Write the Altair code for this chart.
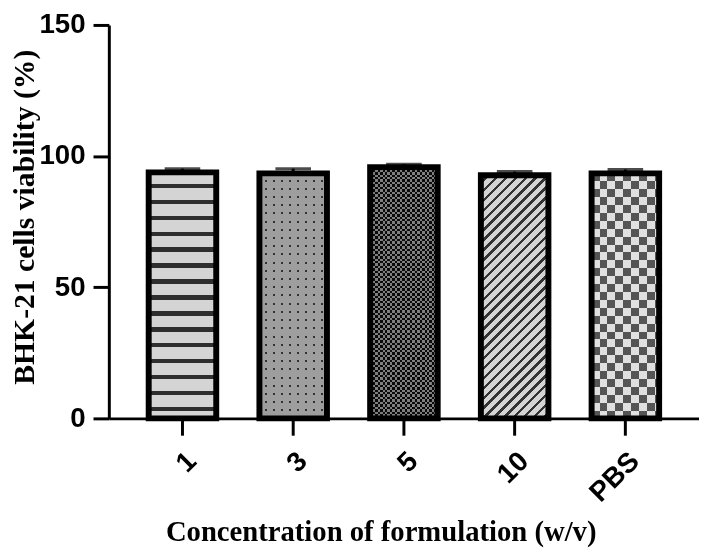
import altair as alt
import pandas as pd

# ---- data ----
categories = ["1", "3", "5", "10", "PBS"]
viability = [93.8, 93.4, 95.8, 92.7, 93.4]
sem = [1.4, 1.8, 1.1, 1.4, 1.5]

df = pd.DataFrame({"cat": categories, "value": viability, "err": sem})
df["top"] = df["value"] + df["err"]

# ---- layout / style ----
W, H = 597, 398
YMAX = 150
PAD_IN, PAD_OUT = 0.39, 0.36
step = W / (len(categories) - PAD_IN + 2 * PAD_OUT)
BW = step * (1 - PAD_IN)


def bar_h(cat):
    return viability[categories.index(cat)] * H / YMAX


def band_stops(total, period, first_len, c1, c2):
    stops = []
    pos = 0.0
    while pos < total:
        for length, col in ((first_len, c1), (period - first_len, c2)):
            a = max(pos, 0.0)
            b = min(pos + length, total)
            if b > a:
                stops.append(alt.GradientStop(offset=a / total, color=col))
                stops.append(alt.GradientStop(offset=b / total, color=col))
            pos += length
    return stops


def grad(stops, x1=0, y1=0, x2=0, y2=1):
    return alt.LinearGradient(gradient="linear", stops=stops, x1=x1, y1=y1, x2=x2, y2=y2)


def vstripes(cat, period, first_len, c1, c2):  # horizontal bands (gradient along y)
    return grad(band_stops(bar_h(cat), period, first_len, c1, c2), 0, 0, 0, 1)


def hstripes(period, first_len, c1, c2):  # vertical bands (gradient along x)
    return grad(band_stops(BW, period, first_len, c1, c2), 0, 0, 1, 0)


def diag(cat, period, first_len, c1, c2):
    w, h = BW, bar_h(cat)
    a = (w + h) / (w * w + h * h)
    return grad(band_stops(w + h, period, first_len, c1, c2), 0, 0, a * w, a * h)


LABEL_FONT = "Liberation Sans"
TITLE_FONT = "Liberation Serif"

x_enc = alt.X(
    "cat:N",
    sort=categories,
    scale=alt.Scale(domain=categories, paddingInner=PAD_IN, paddingOuter=PAD_OUT),
    axis=alt.Axis(
        title="Concentration of formulation (w/v)",
        labelAngle=-45,
        labelFont=LABEL_FONT,
        labelFontWeight="bold",
        labelFontSize=28,
        labelColor="black",
        labelPadding=12,
        tickSize=17,
        tickWidth=3,
        tickColor="black",
        domainWidth=3,
        domainColor="black",
        titleFont=TITLE_FONT,
        titleFontWeight="bold",
        titleFontSize=29,
        titleColor="black",
        titleX=275,
        titleY=124,
        titleBaseline="alphabetic",
        titleAlign="center",
    ),
)
y_axis = alt.Axis(
    title="BHK-21 cells viability (%)",
    values=[0, 50, 100, 150],
    grid=False,
    labelFont=LABEL_FONT,
    labelFontWeight="bold",
    labelFontSize=28,
    labelColor="black",
    labelPadding=8,
    tickSize=16,
    tickWidth=3,
    tickColor="black",
    domainWidth=3,
    domainColor="black",
    titleFont=TITLE_FONT,
    titleFontWeight="bold",
    titleFontSize=30,
    titleColor="black",
    titleX=-76,
    titleY=194,
    titleAngle=270,
    titleBaseline="alphabetic",
    titleAlign="center",
)
y_val = alt.Y("value:Q", scale=alt.Scale(domain=[0, YMAX]), axis=y_axis)

base = alt.Chart(df)

# error bars (upper only visible)
err_rule = base.mark_rule(color="black", strokeWidth=3).encode(
    x=x_enc, y=y_val, y2="top:Q"
)
err_cap = base.mark_tick(color="black", size=36, thickness=3).encode(
    x=x_enc, y=alt.Y("top:Q", scale=alt.Scale(domain=[0, YMAX]), axis=y_axis)
)


def bar_layer(cat, fill, **kw):
    return (
        base.transform_filter(alt.datum.cat == cat)
        .mark_bar(fill=fill, **kw)
        .encode(x=x_enc, y=y_val)
    )


layers = [err_rule, err_cap]

# bar "1": horizontal stripes
layers.append(bar_layer("1", vstripes("1", 16.1, 11.6, "#d4d4d4", "#2e2e2e")))

# bar "3": dotted grey
layers.append(bar_layer("3", vstripes("3", 8.3, 6.3, "#ffffff", "#333333")))
layers.append(bar_layer("3", hstripes(8.0, 6.0, "#ffffff", "#333333"), blend="lighten"))
layers.append(bar_layer("3", "#9e9e9e", blend="darken"))

# bar "5": fine dark checkerboard
layers.append(bar_layer("5", vstripes("5", 5.0, 2.5, "#000000", "#ffffff")))
layers.append(bar_layer("5", hstripes(5.0, 2.5, "#000000", "#ffffff"), blend="difference"))
layers.append(bar_layer("5", "#131313", opacity=0.54))

# bar "10": diagonal stripes
layers.append(bar_layer("10", diag("10", 10.0, 6.5, "#d4d4d4", "#333333")))

# bar "PBS": coarse light checkerboard
layers.append(bar_layer("PBS", vstripes("PBS", 16.0, 8.0, "#000000", "#ffffff")))
layers.append(bar_layer("PBS", hstripes(16.0, 8.0, "#000000", "#ffffff"), blend="difference"))
layers.append(bar_layer("PBS", "#bbbbbb", opacity=0.455))

# outlines
outline = base.mark_bar(
    fillOpacity=0, stroke="black", strokeWidth=6, strokeJoin="miter"
).encode(x=x_enc, y=y_val)
layers.append(outline)

chart = (
    alt.layer(*layers)
    .properties(
        width=W,
        height=H,
        autosize=alt.AutoSizeParams(type="none"),
        padding={"left": 102, "top": 14, "right": 0, "bottom": 130},
        background="white",
    )
    .configure_view(stroke=None)
)

chart.save("out.html", embed_options={"renderer": "svg", "actions": False})
